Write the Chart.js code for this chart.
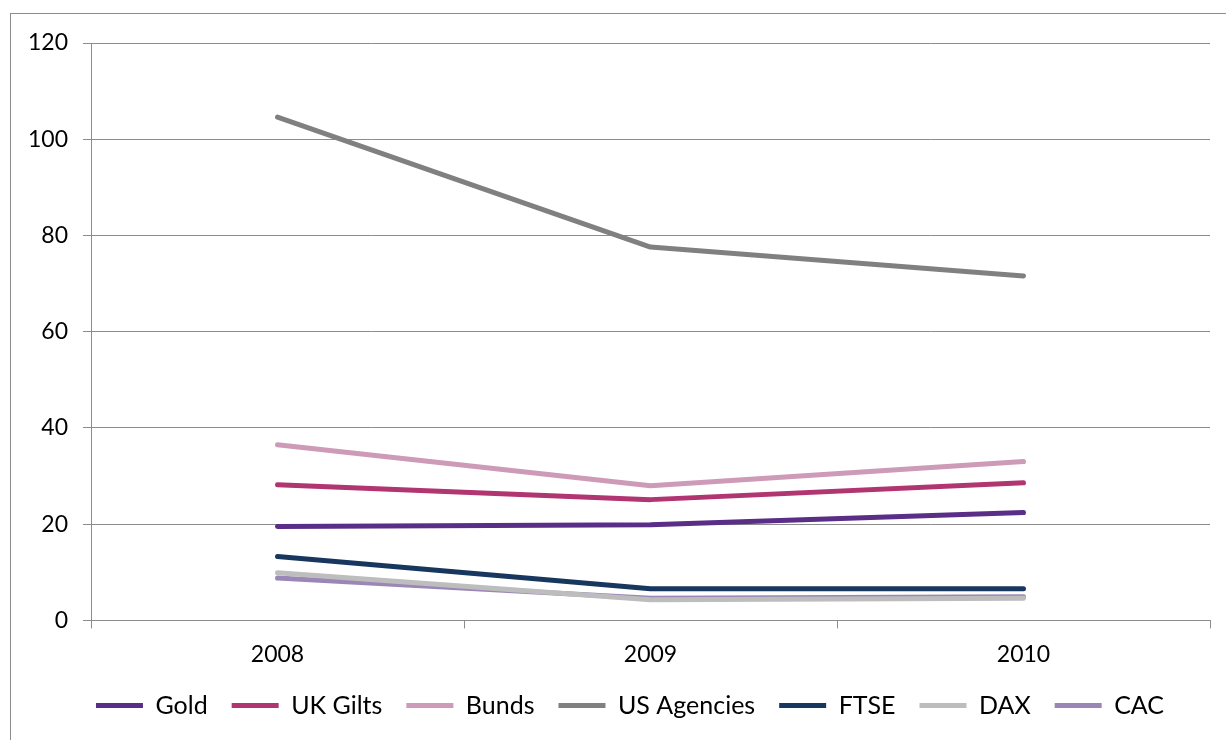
<!DOCTYPE html>
<html>
<head>
<meta charset="utf-8">
<script src="https://cdn.jsdelivr.net/npm/chart.js@4.4.0/dist/chart.umd.min.js"></script>
<style>
  html, body { margin: 0; padding: 0; background: #fff; overflow: hidden; }
  #wrap { position: relative; width: 1226px; height: 740px; }
  #frame {
    position: absolute; left: 10px; top: 13px; width: 1300px; height: 800px;
    border: 1px solid #8c8c8c; pointer-events: none;
  }
  canvas { position: absolute; left: 0; top: 0; }
</style>
</head>
<body>
<div id="wrap">
  <canvas id="chart" width="1226" height="740"></canvas>
  <div id="frame"></div>
</div>
<script>
// Yearly figures per asset class
const years = ['2008', '2009', '2010'];
const gold = [19.5, 19.9, 22.4];
const ukGilts = [28.2, 25.1, 28.6];
const bunds = [36.5, 28.0, 33.0];
const usAgencies = [104.6, 77.6, 71.6];
const ftse = [13.3, 6.6, 6.6];
const dax = [9.9, 4.3, 4.6];
const cac = [8.8, 4.6, 4.9];
const yTicks = [0, 20, 40, 60, 80, 100, 120];

const FONT = 'Lato, "Open Sans", sans-serif';

function line(label, data, color) {
    return {
        label: label,
        data: data,
        borderColor: color,
        backgroundColor: color,
        borderWidth: 5,
        borderCapStyle: 'round',
        borderJoinStyle: 'round',
        pointRadius: 0,
        pointHoverRadius: 0,
        tension: 0,
        fill: false
    };
}

const datasets = [
    line('Gold', gold, '#5a2d87'),
    line('UK Gilts', ukGilts, '#b03571'),
    line('Bunds', bunds, '#cd9ab8'),
    line('US Agencies', usAgencies, '#808080'),
    line('FTSE', ftse, '#17375e'),
    line('DAX', dax, '#bdbdbd'),
    line('CAC', cac, '#9b87b7')
];

// draw back to front so the earlier series sit on top, like the legend order
const drawOrder = ['US Agencies', 'Bunds', 'UK Gilts', 'Gold', 'FTSE', 'DAX', 'CAC'];
datasets.forEach(ds => { ds.order = drawOrder.indexOf(ds.label); });

// the legend row sits centred under the whole frame, not just the plot
const shiftLegend = {
    id: 'shiftLegend',
    afterLayout(chart) {
        if (chart.legend) {
            chart.legend.left += 25;
            chart.legend.right += 25;
        }
    }
};

new Chart(document.getElementById('chart'), {
    type: 'line',
    data: { labels: years, datasets: datasets },
    plugins: [shiftLegend],
    options: {
        responsive: false,
        animation: false,
        layout: { padding: { left: 0, top: 43, right: 16, bottom: 12 } },
        plugins: {
            tooltip: { enabled: false },
            legend: {
                position: 'bottom',
                labels: {
                    color: '#000',
                    font: { family: FONT, size: 25 },
                    boxWidth: 47,
                    boxHeight: 5,
                    padding: 24,
                    useBorderRadius: true,
                    borderRadius: 2.5,
                    generateLabels: chart => chart.data.datasets.map((ds, i) => ({
                        text: ds.label,
                        fillStyle: ds.borderColor,
                        strokeStyle: ds.borderColor,
                        lineWidth: 0,
                        hidden: false,
                        datasetIndex: i,
                        fontColor: '#000'
                    }))
                }
            }
        },
        scales: {
            x: {
                offset: true,
                afterFit: scale => { scale.height -= 11; },
                grid: {
                    offset: true,
                    drawOnChartArea: false,
                    drawTicks: true,
                    tickLength: 8,
                    color: '#8c8c8c'
                },
                border: { color: '#8c8c8c', width: 1 },
                ticks: {
                    color: '#000',
                    font: { family: FONT, size: 23 },
                    padding: 12,
                    maxRotation: 0
                }
            },
            y: {
                min: 0,
                max: 120,
                afterFit: scale => { scale.width = 91; },
                afterBuildTicks: scale => { scale.ticks = yTicks.map(v => ({ value: v })); },
                grid: {
                    color: '#8c8c8c',
                    tickLength: 8,
                    drawTicks: true
                },
                border: { color: '#8c8c8c', width: 1 },
                ticks: {
                    color: '#000',
                    font: { family: FONT, size: 23 },
                    padding: 15
                }
            }
        }
    }
});
</script>
</body>
</html>
